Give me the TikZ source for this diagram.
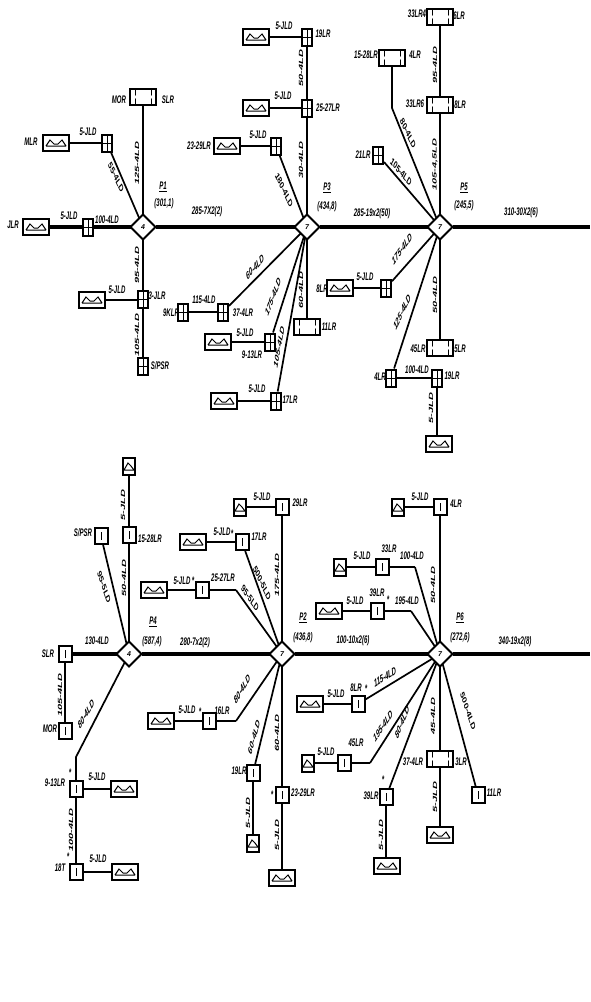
\documentclass[tikz,border=0pt]{standalone}
\usepackage{fontspec}
\setmainfont{Liberation Sans}
\usetikzlibrary{shapes.geometric}

\begin{document}
\begin{tikzpicture}[x=1pt,y=-1pt,
    hub/.style = {shape=diamond, draw, line width=2pt, fill=white, inner sep=0pt, outer sep=0pt,
      minimum width=25pt, minimum height=25pt, font=\bfseries\itshape\fontsize{7}{7}\selectfont},
    genbox/.style = {shape=rectangle, draw, line width=2pt, fill=white, minimum width=26pt, minimum height=16pt, inner sep=0pt,
      path picture={\draw[shift={(path picture bounding box.center)},x=1pt,y=1pt,line width=1pt]
        (-10,-3) -- (10,-3) (-10,-3) -- (-6,3) -- (-2,-1) -- (2,-1) -- (6,3) -- (10,-3);}},
    smallgen/.style = {shape=rectangle, draw, line width=2pt, fill=white, minimum width=12pt, minimum height=17pt, inner sep=0pt,
      path picture={\draw[shift={(path picture bounding box.center)},x=1pt,y=1pt,line width=1pt]
        (-5,-4) -- (5,-4) (-5,-4) -- (-1,3) -- (2,0) -- (5,-4);}},
    twinbox/.style = {shape=rectangle, draw, line width=2pt, fill=white, minimum width=26pt, minimum height=16pt, inner sep=0pt,
      path picture={\draw[shift={(path picture bounding box.center)},x=1pt,y=1pt,line width=.9pt]
        (-8,-7) -- (-8,7) (8,-7) -- (8,7);
        \fill[shift={(path picture bounding box.center)},x=1pt,y=1pt] (-8,0) circle (1.8pt) (8,0) circle (1.8pt);}},
    brkbox/.style = {shape=rectangle, draw, line width=2pt, fill=white, minimum width=10pt, minimum height=17pt, inner sep=0pt,
      path picture={\draw[shift={(path picture bounding box.center)},x=1pt,y=1pt,line width=1pt]
        (-5,0) -- (5,0) (0,-8) -- (0,8);}},
    dotbox/.style = {shape=rectangle, draw, line width=2pt, fill=white, minimum width=13pt, minimum height=16pt, inner sep=0pt,
      path picture={\fill[shift={(path picture bounding box.center)},x=1pt,y=1pt] (0,0) circle (2.4pt);
        \draw[shift={(path picture bounding box.center)},x=1pt,y=1pt,line width=.7pt] (0,-4) -- (0,4);}},
    bus/.style = {line width=3.2pt},
    feed/.style = {line width=2.4pt},
    lead/.style = {line width=1.7pt},
    lbl/.style = {xscale=.55, rotate=#1, transform shape, inner sep=0pt,
      font=\bfseries\itshape\fontsize{11}{11}\selectfont},
    lbl/.default = 0]
    \useasboundingbox (0,0) rectangle (590,1002);

    \node[hub] (p1) at (143,227) {4};
    \node[hub] (p3) at (307,227) {7};
    \node[hub] (p5) at (440,227) {7};
    \node[hub] (p4) at (129,654) {4};
    \node[hub] (p2) at (282,654) {7};
    \node[hub] (p6) at (440,654) {7};
    \coordinate (eastA) at (590,227);
    \coordinate (eastB) at (590,654);

    \node[genbox] (g1) at (56,143) {};
    \node[brkbox] (b1) at (107,143) {};
    \node[twinbox] (t1) at (143,97) {};
    \node[genbox] (g2) at (36,227) {};
    \node[brkbox] (b2) at (88,227) {};
    \node[genbox] (g3) at (92,300) {};
    \node[brkbox] (b3) at (143,299) {};
    \node[brkbox] (b4) at (143,366) {};

    \node[genbox] (g4) at (256,37) {};
    \node[brkbox] (b5) at (307,37) {};
    \node[genbox] (g5) at (256,108) {};
    \node[brkbox] (b6) at (307,108) {};
    \node[genbox] (g6) at (227,146) {};
    \node[brkbox] (b7) at (276,146) {};
    \node[brkbox] (b8) at (223,312) {};
    \node[brkbox] (b9) at (183,312) {};
    \node[genbox] (g7) at (218,342) {};
    \node[brkbox] (b10) at (270,342) {};
    \node[genbox] (g8) at (224,401) {};
    \node[brkbox] (b11) at (276,401) {};
    \node[twinbox] (t2) at (307,327) {};

    \node[twinbox] (t3) at (440,17) {};
    \node[twinbox] (t4) at (440,105) {};
    \node[twinbox] (t5) at (392,58) {};
    \coordinate (e1) at (392,108);
    \node[brkbox] (b12) at (378,155) {};
    \node[genbox] (g9) at (340,288) {};
    \node[brkbox] (b13) at (386,288) {};
    \node[brkbox] (b14) at (391,378) {};
    \node[brkbox] (b15) at (437,378) {};
    \node[genbox] (g10) at (439,444) {};
    \node[twinbox] (t6) at (440,348) {};

    \node[dotbox] (d1) at (65,654) {};
    \node[dotbox] (d2) at (65,731) {};
    \node[dotbox] (d3) at (101,536) {};
    \node[dotbox] (d4) at (129,535) {};
    \node[smallgen] (s1) at (129,466) {};
    \coordinate (e2) at (76,757);
    \node[dotbox] (d5) at (76,789) {};
    \node[genbox] (g11) at (124,789) {};
    \node[dotbox] (d6) at (76,872) {};
    \node[genbox] (g12) at (125,872) {};

    \node[dotbox] (d7) at (282,507) {};
    \node[smallgen] (s2) at (240,507) {};
    \node[dotbox] (d8) at (242,542) {};
    \node[genbox] (g13) at (193,542) {};
    \node[dotbox] (d9) at (202,590) {};
    \node[genbox] (g14) at (154,590) {};
    \coordinate (e3) at (236,590);
    \coordinate (e4) at (236,721);
    \node[dotbox] (d10) at (209,721) {};
    \node[genbox] (g15) at (161,721) {};
    \node[dotbox] (d11) at (253,773) {};
    \node[smallgen] (s3) at (253,843) {};
    \node[dotbox] (d12) at (282,795) {};
    \node[genbox] (g16) at (282,878) {};

    \node[dotbox] (d13) at (440,507) {};
    \node[smallgen] (s4) at (398,507) {};
    \node[dotbox] (d14) at (382,567) {};
    \node[smallgen] (s5) at (340,567) {};
    \coordinate (e5) at (415,567);
    \node[dotbox] (d15) at (377,611) {};
    \node[genbox] (g17) at (329,611) {};
    \coordinate (e6) at (411,611);
    \node[dotbox] (d16) at (358,704) {};
    \node[genbox] (g18) at (310,704) {};
    \node[dotbox] (d17) at (344,763) {};
    \node[smallgen] (s6) at (308,763) {};
    \coordinate (e7) at (370,763);
    \node[dotbox] (d18) at (386,797) {};
    \node[genbox] (g19) at (387,866) {};
    \node[twinbox] (t7) at (440,759) {};
    \node[genbox] (g20) at (440,835) {};
    \node[dotbox] (d19) at (478,795) {};

    \draw[bus] (g2) -- (b2) -- (p1) -- (p3) -- (p5) -- (eastA);
    \draw[bus] (d1) -- (p4) -- (p2) -- (p6) -- (eastB);

    \draw[feed] (g1) -- (b1);
    \draw[feed] (g3 -| g3.east) -- (g3 -| b3.west);
    \draw[feed] (g4) -- (b5);
    \draw[feed] (g5) -- (b6);
    \draw[feed] (g6) -- (b7);
    \draw[feed] (b9) -- (b8);
    \draw[feed] (g7) -- (b10);
    \draw[feed] (g8) -- (b11);
    \draw[feed] (g9) -- (b13);
    \draw[feed] (b14) -- (b15);
    \draw[feed] (d5) -- (g11);
    \draw[feed] (d6) -- (g12);
    \draw[feed] (s2) -- (d7);
    \draw[feed] (g13) -- (d8);
    \draw[feed] (g14) -- (d9) -- (e3);
    \draw[feed] (g15) -- (d10) -- (e4);
    \draw[feed] (s4) -- (d13);
    \draw[feed] (s5) -- (d14) -- (e5);
    \draw[feed] (g17) -- (d15) -- (e6);
    \draw[feed] (g18) -- (d16);
    \draw[feed] (s6) -- (d17) -- (e7);

    \draw[lead] (b1) -- (p1);
    \draw[lead] (t1) -- (p1);
    \draw[lead] (p1) -- (b3);
    \draw[lead] (b3) -- (b4);
    \draw[lead] (b5) -- (b6);
    \draw[lead] (b6) -- (p3);
    \draw[lead] (b7) -- (p3);
    \draw[lead] (p3) -- (b8);
    \draw[lead] (p3) -- (b10);
    \draw[lead] (p3) -- (b11);
    \draw[lead] (p3) -- (t2);
    \draw[lead] (t3) -- (t4);
    \draw[lead] (t4) -- (p5);
    \draw[lead] (t5) -- (e1) -- (p5);
    \draw[lead] (b12) -- (p5);
    \draw[lead] (p5) -- (b13);
    \draw[lead] (p5) -- (b14);
    \draw[lead] (p5) -- (t6);
    \draw[lead] (b15) -- (b15 |- g10.north);
    \draw[lead] (d1) -- (d2);
    \draw[lead] (d3) -- (p4);
    \draw[lead] (s1) -- (d4);
    \draw[lead] (d4) -- (p4);
    \draw[lead] (p4) -- (e2) -- (d5);
    \draw[lead] (d5) -- (d6);
    \draw[lead] (d7) -- (p2);
    \draw[lead] (d8) -- (p2);
    \draw[lead] (e3) -- (p2);
    \draw[lead] (e4) -- (p2);
    \draw[lead] (p2) -- (d11);
    \draw[lead] (d11) -- (s3);
    \draw[lead] (p2) -- (d12);
    \draw[lead] (d12) -- (g16);
    \draw[lead] (d13) -- (p6);
    \draw[lead] (e5) -- (p6);
    \draw[lead] (e6) -- (p6);
    \draw[lead] (d16) -- (p6);
    \draw[lead] (e7) -- (p6);
    \draw[lead] (p6) -- (d18);
    \draw[lead] (d18) -- (d18 |- g19.north);
    \draw[lead] (p6) -- (t7);
    \draw[lead] (t7) -- (g20);
    \draw[lead] (p6) -- (d19);

    \node[lbl] (np1) at (163,187) {\underline{P1}};
    \node[lbl] (vp1) at (164,204) {(301,1)};
    \node[lbl] (np3) at (327,188) {\underline{P3}};
    \node[lbl] (vp3) at (327,207) {(434,8)};
    \node[lbl] (np5) at (464,188) {\underline{P5}};
    \node[lbl] (vp5) at (464,206) {(245,5)};
    \node[lbl] (np4) at (153,622) {\underline{P4}};
    \node[lbl] (vp4) at (152,642) {(587,4)};
    \node[lbl] (np2) at (303,618) {\underline{P2}};
    \node[lbl] (vp2) at (303,638) {(436,8)};
    \node[lbl] (np6) at (460,618) {\underline{P6}};
    \node[lbl] (vp6) at (460,638) {(272,6)};

    \node[lbl] (w1) at (207,212) {285-7X2(2)};
    \node[lbl] (w2) at (372,214) {285-19x2(50)};
    \node[lbl] (w3) at (521,213) {310-30X2(6)};
    \node[lbl] (w4) at (195,643) {280-7x2(2)};
    \node[lbl] (w5) at (353,641) {100-10x2(6)};
    \node[lbl] (w6) at (515,642) {340-19x2(8)};

    \node[lbl] (a1) at (31,142) {MLR};
    \node[lbl] (a2) at (88,132) {5-JLD};
    \node[lbl] (a3) at (119,100) {MOR};
    \node[lbl] (a4) at (168,100) {SLR};
    \node[lbl=90] (a5) at (137,163) {125-4LD};
    \node[lbl=-50] (a6) at (116,177) {55-4LD};
    \node[lbl] (a7) at (13,225) {JLR};
    \node[lbl] (a8) at (69,216) {5-JLD};
    \node[lbl] (a9) at (107,220) {100-4LD};
    \node[lbl] (a10) at (117,290) {5-JLD};
    \node[lbl] (a11) at (157,296) {3-JLR};
    \node[lbl=90] (a12) at (137,265) {95-4LD};
    \node[lbl=90] (a13) at (137,335) {105-4LD};
    \node[lbl] (a14) at (160,366) {S/PSR};

    \node[lbl] (c1) at (284,26) {5-JLD};
    \node[lbl] (c2) at (323,34) {19LR};
    \node[lbl] (c3) at (283,96) {5-JLD};
    \node[lbl] (c4) at (328,108) {25-27LR};
    \node[lbl=90] (c5) at (301,68) {50-4LD};
    \node[lbl=90] (c6) at (301,160) {30-4LD};
    \node[lbl] (c7) at (199,146) {23-29LR};
    \node[lbl] (c8) at (258,135) {5-JLD};
    \node[lbl=-50] (c9) at (284,190) {180-4LD};
    \node[lbl=33] (c10) at (255,267) {60-4LD};
    \node[lbl] (c11) at (204,300) {115-4LD};
    \node[lbl] (c12) at (171,313) {9KLR};
    \node[lbl] (c13) at (243,313) {37-4LR};
    \node[lbl] (c14) at (245,333) {5-JLD};
    \node[lbl] (c15) at (252,355) {9-13LR};
    \node[lbl=56] (c16) at (273,297) {175-4LD};
    \node[lbl=72] (c17) at (279,347) {105-4LD};
    \node[lbl] (c18) at (257,389) {5-JLD};
    \node[lbl] (c19) at (290,400) {17LR};
    \node[lbl=90] (c20) at (301,290) {60-4LD};
    \node[lbl] (c21) at (329,327) {11LR};

    \node[lbl] (f1) at (417,14) {33LR4};
    \node[lbl] (f2) at (459,16) {6LR};
    \node[lbl] (f3) at (415,104) {33LR6};
    \node[lbl] (f4) at (460,105) {8LR};
    \node[lbl=90] (f5) at (435,65) {95-4LD};
    \node[lbl=90] (f6) at (435,165) {105-4,5LD};
    \node[lbl] (f7) at (366,55) {15-28LR};
    \node[lbl] (f8) at (415,55) {4LR};
    \node[lbl=-50] (f9) at (408,133) {80-4LD};
    \node[lbl] (f10) at (363,155) {21LR};
    \node[lbl=-33] (f11) at (401,172) {105-4LD};
    \node[lbl] (f12) at (322,289) {8LR};
    \node[lbl] (f13) at (365,277) {5-JLD};
    \node[lbl=38] (f14) at (402,249) {175-4LD};
    \node[lbl=50] (f15) at (402,312) {125-4LD};
    \node[lbl=90] (f16) at (435,295) {50-4LD};
    \node[lbl] (f17) at (418,349) {45LR};
    \node[lbl] (f18) at (460,349) {5LR};
    \node[lbl] (f19) at (380,377) {4LR};
    \node[lbl] (f20) at (417,370) {100-4LD};
    \node[lbl] (f21) at (452,376) {19LR};
    \node[lbl=90] (f22) at (431,408) {5-JLD};

    \node[lbl] (h1) at (48,654) {SLR};
    \node[lbl] (h2) at (97,641) {130-4LD};
    \node[lbl=90] (h3) at (60,695) {105-4LD};
    \node[lbl] (h4) at (50,729) {MOR};
    \node[lbl] (h5) at (83,533) {S/PSR};
    \node[lbl=-59] (h6) at (104,587) {95-5LD};
    \node[lbl] (h7) at (150,539) {15-28LR};
    \node[lbl=90] (h8) at (123,505) {5-JLD};
    \node[lbl=90] (h9) at (124,578) {50-4LD};
    \node[lbl=44] (h10) at (86,714) {80-4LD};
    \node[lbl] (h11) at (97,777) {5-JLD};
    \node[lbl] (h12) at (55,783) {9-13LR};
    \node[lbl] (h13) at (70,773) {*};
    \node[lbl=90] (h14) at (71,830) {100-4LD};
    \node[lbl] (h15) at (98,859) {5-JLD};
    \node[lbl] (h16) at (60,868) {18T};
    \node[lbl] (h17) at (68,857) {*};

    \node[lbl] (k1) at (262,497) {5-JLD};
    \node[lbl] (k2) at (300,503) {29LR};
    \node[lbl=90] (k3) at (277,575) {175-4LD};
    \node[lbl] (k4) at (222,532) {5-JLD};
    \node[lbl] (k5) at (232,534) {*};
    \node[lbl] (k6) at (259,537) {17LR};
    \node[lbl=-50] (k7) at (262,583) {500-5LD};
    \node[lbl] (k8) at (182,581) {5-JLD};
    \node[lbl] (k9) at (193,581) {*};
    \node[lbl] (k10) at (223,578) {25-27LR};
    \node[lbl=-38] (k11) at (250,598) {95-5LD};
    \node[lbl] (k12) at (187,710) {5-JLD};
    \node[lbl] (k13) at (200,712) {*};
    \node[lbl] (k14) at (222,711) {16LR};
    \node[lbl=44] (k15) at (242,689) {80-4LD};
    \node[lbl=64] (k16) at (254,737) {60-4LD};
    \node[lbl] (k17) at (239,771) {19LR};
    \node[lbl=90] (k18) at (248,813) {5-JLD};
    \node[lbl=90] (k19) at (277,733) {60-4LD};
    \node[lbl] (k20) at (272,795) {*};
    \node[lbl] (k21) at (303,793) {23-29LR};
    \node[lbl=90] (k22) at (277,835) {5-JLD};

    \node[lbl] (m1) at (420,497) {5-JLD};
    \node[lbl] (m2) at (456,504) {4LR};
    \node[lbl=90] (m3) at (433,585) {50-4LD};
    \node[lbl] (m4) at (362,556) {5-JLD};
    \node[lbl] (m5) at (389,549) {33LR};
    \node[lbl] (m6) at (412,556) {100-4LD};
    \node[lbl] (m7) at (355,601) {5-JLD};
    \node[lbl] (m8) at (377,593) {39LR};
    \node[lbl] (m9) at (388,600) {*};
    \node[lbl] (m10) at (407,601) {195-4LD};
    \node[lbl] (m11) at (336,694) {5-JLD};
    \node[lbl] (m12) at (356,688) {8LR};
    \node[lbl] (m13) at (366,689) {*};
    \node[lbl=19] (m14) at (385,677) {115-4LD};
    \node[lbl] (m15) at (326,752) {5-JLD};
    \node[lbl] (m16) at (356,743) {45LR};
    \node[lbl=41] (m17) at (383,726) {195-4LD};
    \node[lbl=54] (m18) at (402,722) {80-4LD};
    \node[lbl] (m19) at (383,780) {*};
    \node[lbl] (m20) at (371,796) {39LR};
    \node[lbl=90] (m21) at (381,835) {5-JLD};
    \node[lbl=90] (m22) at (433,716) {45-4LD};
    \node[lbl] (m23) at (413,762) {37-4LR};
    \node[lbl] (m24) at (461,762) {3LR};
    \node[lbl=90] (m25) at (435,797) {5-JLD};
    \node[lbl=-59] (m26) at (468,711) {500-4LD};
    \node[lbl] (m27) at (494,793) {11LR};
\end{tikzpicture}
\end{document}
